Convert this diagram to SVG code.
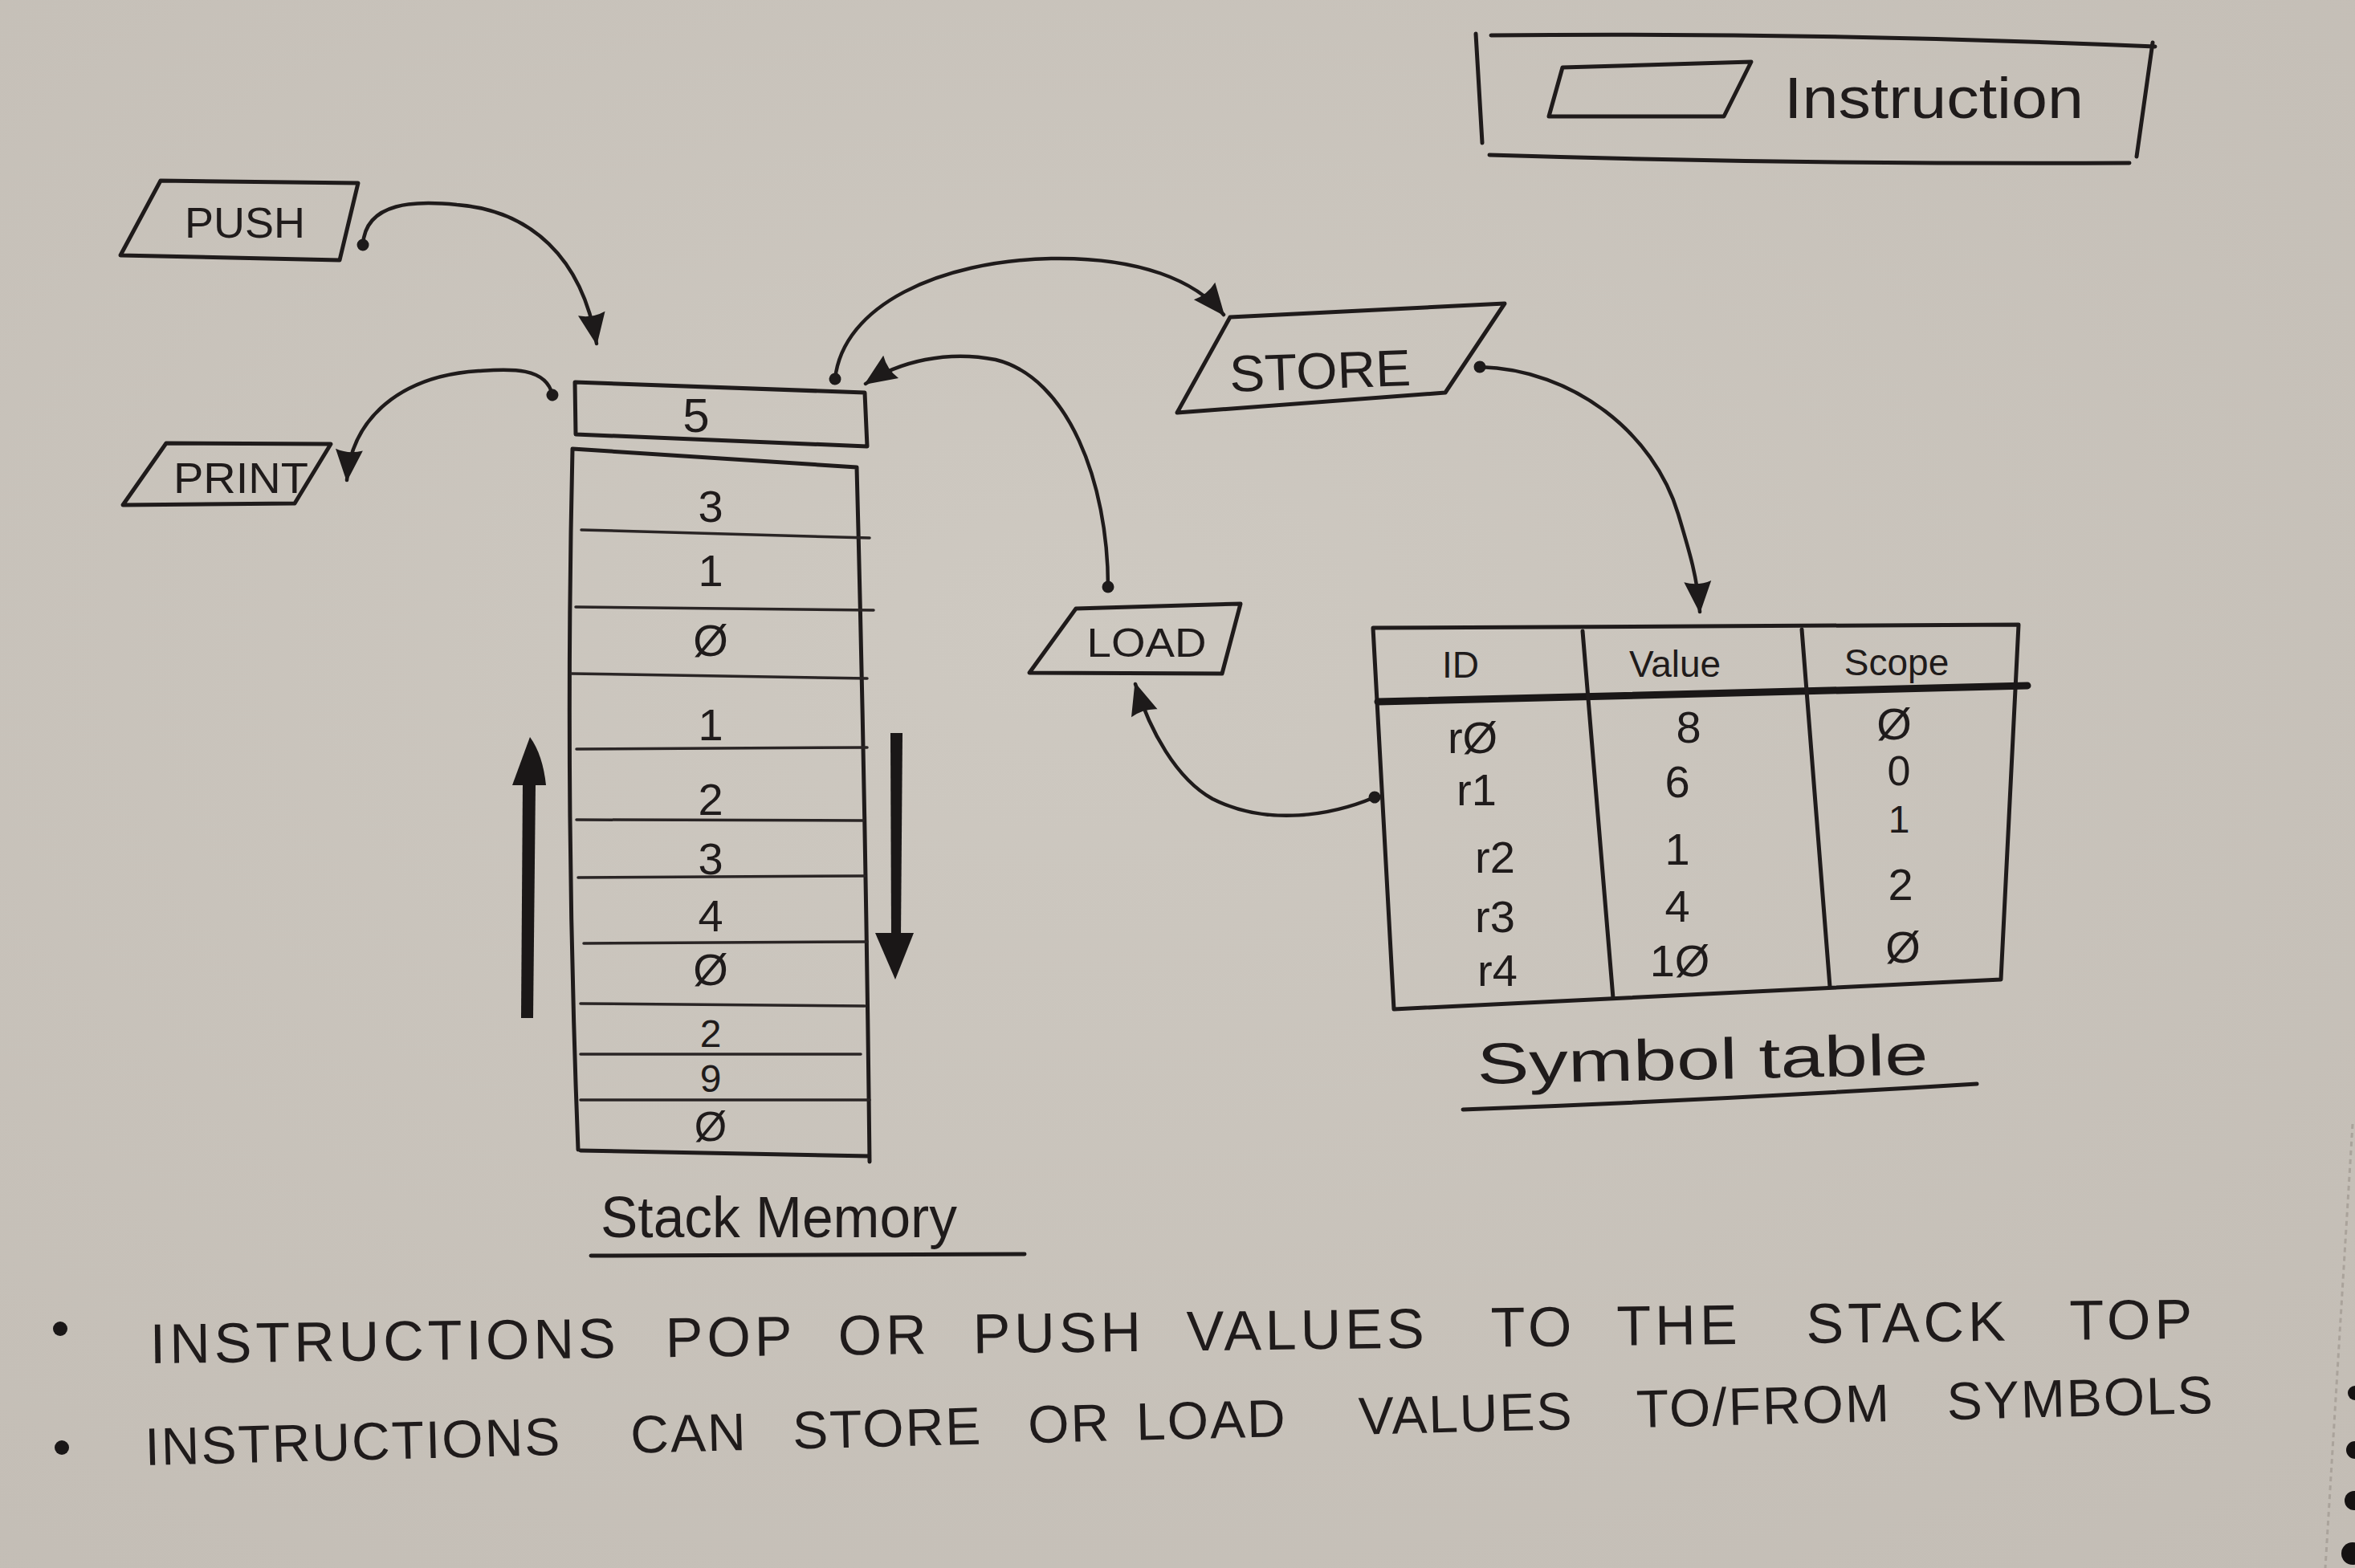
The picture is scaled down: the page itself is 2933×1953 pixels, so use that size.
<svg xmlns="http://www.w3.org/2000/svg" width="2933" height="1953" viewBox="0 0 2933 1953">
  <defs>
    <radialGradient id="paper" cx="0.45" cy="0.4" r="0.8">
      <stop offset="0" stop-color="#cec9c1"/>
      <stop offset="1" stop-color="#c3bdb5"/>
    </radialGradient>
    <marker id="arrow" markerUnits="userSpaceOnUse" markerWidth="44" markerHeight="40" refX="40" refY="19" orient="auto">
      <path d="M2,2 L42,19 L2,36 Q8,19 2,2 z" fill="#1d1a1a"/>
    </marker>
    <marker id="dot" markerUnits="userSpaceOnUse" markerWidth="20" markerHeight="20" refX="10" refY="10" orient="auto">
      <circle cx="10" cy="10" r="7.5" fill="#1d1a1a"/>
    </marker>
  </defs>
  <style>
    .ink { fill: none; stroke: #1f1b1b; stroke-width: 5; stroke-linecap: round; stroke-linejoin: round; }
    .thin { fill: none; stroke: #2a2525; stroke-width: 3.5; stroke-linecap: round; }
    .conn { fill: none; stroke: #1f1b1b; stroke-width: 4.5; stroke-linecap: round; }
    .hand { font-family: "Liberation Sans", "DejaVu Sans", sans-serif; fill: #1f1b1b; }
    .mid { text-anchor: middle; }
    .notes { font-family: "Liberation Sans", "DejaVu Sans", sans-serif; fill: #1f1b1b; font-size: 70px; letter-spacing: 5px; }
    .notes2 { font-family: "Liberation Sans", "DejaVu Sans", sans-serif; fill: #1f1b1b; font-size: 66px; letter-spacing: 2px; }
  </style>

  <rect x="0" y="0" width="2933" height="1953" fill="url(#paper)"/>
  <!-- paper edge and perforation -->
  <path d="M2930,1400 L2896,1953" stroke="#aaa39b" stroke-width="3" stroke-dasharray="6 5" fill="none"/>
  <circle cx="2933" cy="1735" r="9" fill="#151212"/>
  <circle cx="2933" cy="1806" r="11" fill="#151212"/>
  <circle cx="2932" cy="1869" r="12" fill="#151212"/>
  <circle cx="2930" cy="1935" r="14" fill="#151212"/>

  <!-- Legend -->
  <g id="legend">
    <path class="ink" d="M1838,42 L1846,178 M1857,44 Q2270,40 2684,58 M2681,53 L2661,195 M1855,193 Q2250,205 2652,203"/>
    <polygon class="ink" points="1946,84 2181,77 2147,145 1929,145"/>
    <text class="hand" x="2222" y="147" font-size="72" textLength="373" lengthAdjust="spacingAndGlyphs">Instruction</text>
  </g>

  <!-- PUSH -->
  <g id="push">
    <polygon class="ink" points="200,225 446,228 423,324 150,318"/>
    <text class="hand mid" x="305" y="296" font-size="54" textLength="150" lengthAdjust="spacingAndGlyphs">PUSH</text>
  </g>

  <!-- PRINT -->
  <g id="print">
    <polygon class="ink" points="207,552 412,553 367,627 153,629"/>
    <text class="hand mid" x="300" y="614" font-size="54" textLength="168" lengthAdjust="spacingAndGlyphs">PRINT</text>
  </g>

  <!-- Stack top element -->
  <g id="stack-top">
    <polygon class="ink" points="716,476 1077,489 1080,556 717,541"/>
    <text class="hand mid" x="867" y="538" font-size="60">5</text>
  </g>

  <!-- Stack memory -->
  <g id="stack-memory">
    <path class="ink" d="M713,559 L1067,582 M1067,582 Q1078,1000 1083,1447 M713,559 Q703,1000 720,1432 M723,1433 L1083,1440"/>
    <path class="thin" d="M724,660 L1083,670 M717,756 L1088,760 M712,839 L1080,845 M718,933 L1080,931 M718,1021 L1075,1022 M720,1093 L1077,1091 M727,1175 L1080,1173 M723,1250 L1077,1253 M723,1313 L1072,1313 M723,1370 L1083,1370"/>
    <g class="hand mid" font-size="56">
      <text x="885" y="650">3</text>
      <text x="885" y="730">1</text>
      <text x="885" y="817">Ø</text>
      <text x="885" y="922">1</text>
      <text x="885" y="1015">2</text>
      <text x="885" y="1089">3</text>
      <text x="885" y="1160">4</text>
      <text x="885" y="1227">Ø</text>
      <text x="885" y="1304" font-size="48">2</text>
      <text x="885" y="1360" font-size="48">9</text>
      <text x="885" y="1421" font-size="52">Ø</text>
    </g>
    <!-- direction arrows -->
    <path d="M649,1268 L651,976 L667,976 L664,1268 z" fill="#1a1717"/>
    <path d="M638,978 L660,918 Q676,940 680,978 z" fill="#1a1717"/>
    <path d="M1109,913 L1124,913 L1122,1168 L1110,1168 z" fill="#1a1717"/>
    <path d="M1090,1162 L1138,1162 L1115,1220 z" fill="#1a1717"/>
    <text class="hand" x="748" y="1541" font-size="72" textLength="444" lengthAdjust="spacingAndGlyphs">Stack Memory</text>
    <path class="ink" d="M736,1564 L1276,1562"/>
  </g>

  <!-- STORE -->
  <g id="store">
    <polygon class="ink" points="1532,395 1874,378 1800,489 1466,514"/>
    <text class="hand mid" x="1644" y="484" font-size="64" textLength="226" lengthAdjust="spacingAndGlyphs" transform="rotate(-2 1644 460)">STORE</text>
  </g>

  <!-- LOAD -->
  <g id="load">
    <polygon class="ink" points="1340,758 1545,752 1522,839 1282,838"/>
    <text class="hand mid" x="1428" y="818" font-size="50" textLength="149" lengthAdjust="spacingAndGlyphs">LOAD</text>
  </g>

  <!-- Symbol table -->
  <g id="symbol-table">
    <polygon class="ink" points="1710,782 2514,778 2492,1220 1736,1257"/>
    <path d="M1716,874 L2525,854" stroke="#1a1717" stroke-width="9" stroke-linecap="round" fill="none"/>
    <path class="ink" d="M1971,786 L2009,1243 M2244,784 L2279,1229"/>
    <g class="hand mid" font-size="46">
      <text x="1819" y="844">ID</text>
      <text x="2086" y="843">Value</text>
      <text x="2362" y="841">Scope</text>
    </g>
    <g class="hand mid" font-size="56">
      <text x="1834" y="938">rØ</text>
      <text x="1839" y="1003">r1</text>
      <text x="1862" y="1087">r2</text>
      <text x="1862" y="1161">r3</text>
      <text x="1865" y="1228">r4</text>
      <text x="2103" y="925">8</text>
      <text x="2089" y="993">6</text>
      <text x="2089" y="1077">1</text>
      <text x="2089" y="1148">4</text>
      <text x="2092" y="1216">1Ø</text>
      <text x="2359" y="921">Ø</text>
      <text x="2365" y="978" font-size="52">0</text>
      <text x="2365" y="1037" font-size="48">1</text>
      <text x="2367" y="1121">2</text>
      <text x="2370" y="1199">Ø</text>
    </g>
    <text class="hand" x="1840" y="1350" font-size="72" textLength="562" lengthAdjust="spacingAndGlyphs" transform="rotate(-1.2 1840 1350)">Symbol table</text>
    <path class="ink" d="M1822,1382 Q2140,1370 2462,1350"/>
  </g>

  <!-- Connectors -->
  <g id="connectors">
    <path class="conn" marker-start="url(#dot)" marker-end="url(#arrow)" d="M452,305 C455,250 520,250 569,255 C660,262 725,320 743,428"/>
    <path class="conn" marker-start="url(#dot)" marker-end="url(#arrow)" d="M688,492 C680,455 630,460 596,462 C500,468 438,520 432,598"/>
    <path class="conn" marker-start="url(#dot)" marker-end="url(#arrow)" d="M1040,472 C1050,380 1170,325 1309,322 C1420,320 1490,350 1524,392"/>
    <path class="conn" marker-start="url(#dot)" marker-end="url(#arrow)" d="M1380,731 C1380,600 1330,470 1240,448 C1180,436 1120,450 1078,478"/>
    <path class="conn" marker-start="url(#dot)" marker-end="url(#arrow)" d="M1843,457 C1960,460 2060,540 2090,640 C2105,690 2114,720 2117,762"/>
    <path class="conn" marker-start="url(#dot)" marker-end="url(#arrow)" d="M1712,993 C1660,1015 1580,1030 1510,995 C1465,970 1432,910 1414,852"/>
  </g>

  <!-- Notes -->
  <g id="notes">
    <circle cx="75" cy="1655" r="9" fill="#1a1717"/>
    <circle cx="77" cy="1803" r="9" fill="#1a1717"/>
    <text class="notes" x="187" y="1698" transform="rotate(-0.7 187 1698)"><tspan x="187">INSTRUCTIONS</tspan> <tspan x="829">POP</tspan> <tspan x="1044">OR</tspan> <tspan x="1212">PUSH</tspan> <tspan x="1478">VALUES</tspan> <tspan x="1857">TO</tspan> <tspan x="2014">THE</tspan> <tspan x="2250">STACK</tspan> <tspan x="2578">TOP</tspan></text>
    <text class="notes2" x="181" y="1825" transform="rotate(-1.45 181 1825)"><tspan x="181">INSTRUCTIONS</tspan> <tspan x="786">CAN</tspan> <tspan x="988">STORE</tspan> <tspan x="1281">OR</tspan> <tspan x="1416">LOAD</tspan> <tspan x="1693">VALUES</tspan> <tspan x="2039">TO/FROM</tspan> <tspan x="2426">SYMBOLS</tspan></text>
  </g>
</svg>
